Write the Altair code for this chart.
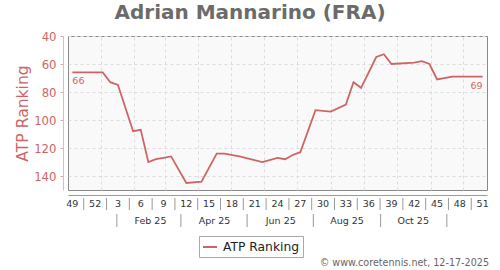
import altair as alt
import pandas as pd
from datetime import datetime, timedelta

# ---- data ----
week_labels = [49, 50, 51, 52] + list(range(1, 52))          # ISO weeks Dec 2024 .. Dec 2025
rankings = [66, 66, 66, 66, 66, 73, 75, None, 108, 107,
            130, 128, 127, 126, None, 145, None, 144, None, 124,
            124, None, 126, None, None, 130, None, 127, 128, 125,
            123, None, 93, None, 94, None, 89, 73, 77, None,
            55, 53, 60, None, None, 59, 58, 60, 71, None,
            69, 69, 69, 69, 69]
first_week_date = "2024-12-06"
month_ticks = ["2025-01-01", "2025-02-01", "2025-03-01", "2025-04-01", "2025-05-01",
               "2025-06-01", "2025-07-01", "2025-08-01", "2025-09-01", "2025-10-01",
               "2025-11-01", "2025-12-01"]
month_labels = ["Feb 25", "Apr 25", "Jun 25", "Aug 25", "Oct 25"]
month_label_dates = ["2025-02-16", "2025-04-16", "2025-06-16", "2025-08-16", "2025-10-16"]
month_sep_dates = ["2025-01-16", "2025-03-16", "2025-05-16", "2025-07-16", "2025-09-16", "2025-11-16"]
y_ticks = [40, 60, 80, 100, 120, 140]
series_name = "ATP Ranking"
footer = "\u00a9 www.coretennis.net, 12-17-2025"

RED = "#cc6666"
W, H = 419, 154

start = datetime.fromisoformat(first_week_date)
dates = [(start + timedelta(days=7 * i)) for i in range(len(week_labels))]
iso = lambda d: d.strftime("%Y-%m-%dT%H:%M:%SZ")

df = pd.DataFrame({"date": [iso(d) for d in dates], "rank": rankings, "week": week_labels})
line_df = df.dropna().copy()
line_df["series"] = series_name

lab_df = df.iloc[::3].copy()
lab_df["label"] = lab_df["week"].astype(str)
sep_df = pd.DataFrame({"date": [iso(dates[i] + timedelta(days=10.5)) for i in range(0, len(dates) - 3, 3)]})

end_df = line_df.iloc[[0, -1]].copy()
end_df["label"] = end_df["rank"].astype(int).astype(str)

mlab_df = pd.DataFrame({"date": [d + "T00:00:00Z" for d in month_label_dates], "label": month_labels})
msep_df = pd.DataFrame({"date": [d + "T00:00:00Z" for d in month_sep_dates]})
foot_df = pd.DataFrame({"t": [footer]})

xscale = alt.Scale(type="utc",
                   domain=[alt.DateTime(year=2024, month=12, date=2, utc=True),
                           alt.DateTime(year=2025, month=12, date=23, utc=True)])
yscale = alt.Scale(domain=[40, 150], reverse=True, nice=False, zero=False)
xaxis = alt.Axis(values=[alt.DateTime(year=int(m[:4]), month=int(m[5:7]), date=1, utc=True) for m in month_ticks],
                 labels=False, ticks=False, title=None, offset=5, domainColor="#9a9a9a",
                 grid=True, gridDash=[3, 3], gridColor="#dcdcdc")
yaxis = alt.Axis(values=y_ticks, title="ATP Ranking", offset=5, domainColor="#e6b8b8",
                 tickColor="#e0a8a8", tickSize=3, labelColor=RED, labelFontSize=11.7,
                 labelOverlap=False, labelPadding=4, titleColor=RED, titleFontSize=15.6,
                 titleFontWeight="normal", titlePadding=3, grid=True, gridDash=[3, 3],
                 gridColor="#dcdcdc")

X = alt.X("date:T", scale=xscale, axis=xaxis)
Y = alt.Y("rank:Q", scale=yscale, axis=yaxis)

line = alt.Chart(line_df).mark_line(strokeWidth=1.8).encode(
    x=X, y=Y,
    color=alt.Color("series:N", scale=alt.Scale(range=[RED]),
                    legend=alt.Legend(title=None, orient="none", legendX=131, legendY=200,
                                      symbolType="stroke", symbolSize=196, symbolStrokeWidth=2,
                                      labelFontSize=12.3, labelColor="#222", strokeColor="#aaa",
                                      fillColor="#ffffff", padding=3, labelOffset=5)),
)

end_left = alt.Chart(end_df.iloc[[0]]).mark_text(align="left", baseline="middle", dy=9,
                                                  fontSize=9.5, color=RED).encode(
    x=X, y=Y, text="label:N")
end_right = alt.Chart(end_df.iloc[[1]]).mark_text(align="right", baseline="middle", dy=9,
                                                   fontSize=9.5, color=RED).encode(
    x=X, y=Y, text="label:N")

wk = alt.Chart(lab_df).mark_text(baseline="middle", fontSize=9.5, color="#333").encode(
    x=X, y=alt.value(168), text="label:N")
wsep = alt.Chart(sep_df).mark_rule(color="#999", strokeWidth=1).encode(
    x=X, y=alt.value(162), y2=alt.value(174))
mlab = alt.Chart(mlab_df).mark_text(baseline="middle", fontSize=9.5, color="#333").encode(
    x=X, y=alt.value(185), text="label:N")
msep = alt.Chart(msep_df).mark_rule(color="#999", strokeWidth=1).encode(
    x=X, y=alt.value(178), y2=alt.value(191))
foot = alt.Chart(foot_df).mark_text(align="right", baseline="middle", fontSize=9.6, color="#666").encode(
    x=alt.value(421), y=alt.value(227), text="t:N")

chart = alt.layer(line, end_left, end_right, wk, wsep, mlab, msep, foot).properties(
    width=W, height=H,
    padding={"left": 68, "top": 36, "right": 13, "bottom": 80},
    autosize=alt.AutoSizeParams(type="none"),
    title=alt.Title("Adrian Mannarino (FRA)", fontSize=20, font="DejaVu Sans", fontWeight="bold",
                    color="#6b6b6b", anchor="middle", dx=-27.5, dy=17, baseline="alphabetic", offset=9),
).configure(font="DejaVu Sans").configure_view(
    fill="#f9f9f9", stroke="#888", strokeWidth=1
)

chart.save("out.html", embed_options={"renderer": "svg", "actions": False})
